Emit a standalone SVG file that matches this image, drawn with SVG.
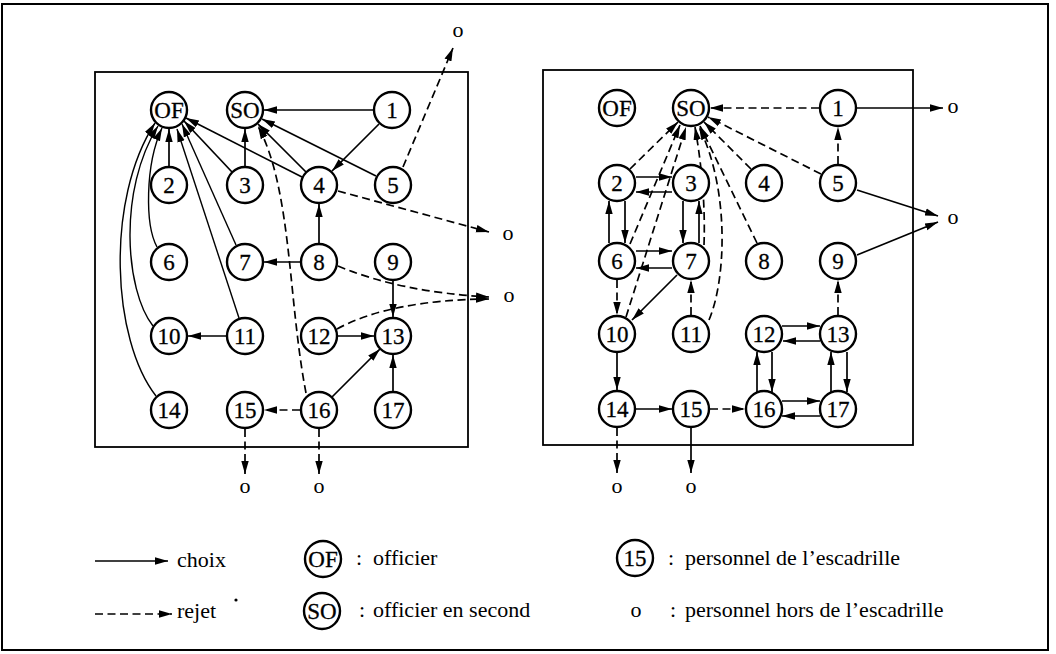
<svg xmlns="http://www.w3.org/2000/svg" width="1056" height="654" viewBox="0 0 1056 654">
<style>
.bg{fill:#fff}
.frame{fill:none;stroke:#000;stroke-width:2}
.panel{fill:none;stroke:#000;stroke-width:1.8}
.node circle{fill:#fff;stroke:#000;stroke-width:2.4}
.node text{font-family:"Liberation Serif","Times New Roman",serif;font-size:23px;fill:#000;text-anchor:middle;stroke:#000;stroke-width:0.3}
.lbl{font-family:"Liberation Serif","Times New Roman",serif;font-size:22px;fill:#000}
.o{font-family:"Liberation Serif","Times New Roman",serif;font-size:22px;fill:#000;text-anchor:middle}
.s{fill:none;stroke:#000;stroke-width:1.7;marker-end:url(#ah)}
.d{fill:none;stroke:#000;stroke-width:1.7;stroke-dasharray:8 4.5;marker-end:url(#ah)}
.t{fill:none;stroke:#000;stroke-width:1.4;marker-end:url(#ah)}
</style>
<defs>
<marker id="ah" markerUnits="userSpaceOnUse" markerWidth="14" markerHeight="10" refX="13" refY="5" orient="auto">
<path d="M0,1.3 L13,5 L0,8.7 z" fill="#000" stroke="none"/>
</marker>
</defs>
<rect class="bg" x="0" y="0" width="1056" height="654"/>
<rect class="frame" x="2" y="4" width="1046" height="646"/>
<rect class="panel" x="95" y="72" width="373" height="375"/>
<rect class="panel" x="543" y="70" width="370" height="375"/>

<g id="connectors-left">
<path class="s" d="M373,110 L264,110"/>
<path class="s" d="M379,124 L332,171"/>
<path class="s" d="M376,176 L262,119"/>
<path class="s" d="M306,172 L258,124"/>
<path class="s" d="M302,177 L186,118"/>
<path class="s" d="M245,166 L245,129"/>
<path class="s" d="M232,172 L184,121"/>
<path class="s" d="M169,166 L169,129"/>
<path class="t" d="M236,245 L182,124"/>
<path class="t" d="M239,318 L177,129"/>
<path class="t" d="M156,396 C112,340 105,200 155,123"/>
<path class="t" d="M153,326 C125,290 118,190 158,126"/>
<path class="t" d="M157,247 C145,225 145,165 162,128"/>
<path class="d" d="M306,393 C288,300 292,190 258,126"/>
<path class="d" d="M403,167 L453,48"/>
<path class="d" d="M338,191 L489,232"/>
<path class="d" d="M338,266 Q400,292 489,297"/>
<path class="d" d="M337,329 Q390,300 489,299"/>
<path class="s" d="M319,243 L319,204"/>
<path class="s" d="M300,262 L264,262"/>
<path class="s" d="M393,281 L393,317"/>
<path class="s" d="M338,336 L374,336"/>
<path class="s" d="M332,397 L380,349"/>
<path class="s" d="M393,391 L393,355"/>
<path class="s" d="M226,336 L188,336"/>
<path class="d" d="M300,410 L264,410"/>
<path class="d" d="M245,429 L245,474"/>
<path class="d" d="M319,429 L319,474"/>
</g>

<g id="connectors-right">
<path class="d" d="M819,108 L710,108"/>
<path class="s" d="M857,108 L943,108"/>
<path class="d" d="M838,164 L838,127"/>
<path class="d" d="M821,174 L708,117"/>
<path class="d" d="M751,169 L704,122"/>
<path class="d" d="M757,243 L700,126"/>
<path class="s" d="M857,190 L938,216"/>
<path class="s" d="M857,255 L938,222"/>
<path class="d" d="M630,169 L678,122"/>
<path class="s" d="M636,177 L672,177"/>
<path class="s" d="M672,192 L636,192"/>
<path class="s" d="M625,201 L625,243"/>
<path class="s" d="M609,243 L609,201"/>
<path class="s" d="M683,201 L683,243"/>
<path class="s" d="M699,243 L699,201"/>
<path class="s" d="M636,251 L672,251"/>
<path class="s" d="M672,268 L636,268"/>
<path class="d" d="M617,280 L617,315"/>
<path class="d" d="M630,244 L680,125"/>
<path class="d" d="M626,317 L686,127"/>
<path class="d" d="M704,245 Q706,190 695,127"/>
<path class="d" d="M709,320 C726,280 730,190 699,127"/>
<path class="s" d="M677,275 L632,320"/>
<path class="d" d="M691,315 L691,280"/>
<path class="s" d="M617,353 L617,390"/>
<path class="s" d="M636,409 L672,409"/>
<path class="d" d="M710,409 L745,409"/>
<path class="d" d="M617,428 L617,473"/>
<path class="s" d="M691,428 L691,473"/>
<path class="d" d="M838,315 L838,280"/>
<path class="s" d="M782,326 L820,326"/>
<path class="s" d="M820,341 L783,341"/>
<path class="s" d="M772,352 L772,392"/>
<path class="s" d="M757,392 L757,352"/>
<path class="s" d="M847,352 L847,392"/>
<path class="s" d="M831,392 L831,352"/>
<path class="s" d="M782,401 L820,401"/>
<path class="s" d="M820,416 L782,416"/>
</g>

<g id="L-OF" class="node"><circle cx="169" cy="110" r="18"/><text x="169" y="118">OF</text></g>
<g id="L-SO" class="node"><circle cx="245" cy="110" r="18"/><text x="245" y="118">SO</text></g>
<g id="L-1" class="node"><circle cx="392" cy="110" r="18"/><text x="392" y="118">1</text></g>
<g id="L-2" class="node"><circle cx="169" cy="185" r="18"/><text x="169" y="193">2</text></g>
<g id="L-3" class="node"><circle cx="245" cy="185" r="18"/><text x="245" y="193">3</text></g>
<g id="L-4" class="node"><circle cx="319" cy="185" r="18"/><text x="319" y="193">4</text></g>
<g id="L-5" class="node"><circle cx="393" cy="185" r="18"/><text x="393" y="193">5</text></g>
<g id="L-6" class="node"><circle cx="169" cy="262" r="18"/><text x="169" y="270">6</text></g>
<g id="L-7" class="node"><circle cx="245" cy="262" r="18"/><text x="245" y="270">7</text></g>
<g id="L-8" class="node"><circle cx="319" cy="262" r="18"/><text x="319" y="270">8</text></g>
<g id="L-9" class="node"><circle cx="393" cy="262" r="18"/><text x="393" y="270">9</text></g>
<g id="L-10" class="node"><circle cx="169" cy="336" r="18"/><text x="169" y="344">10</text></g>
<g id="L-11" class="node"><circle cx="245" cy="336" r="18"/><text x="245" y="344">11</text></g>
<g id="L-12" class="node"><circle cx="319" cy="336" r="18"/><text x="319" y="344">12</text></g>
<g id="L-13" class="node"><circle cx="393" cy="336" r="18"/><text x="393" y="344">13</text></g>
<g id="L-14" class="node"><circle cx="169" cy="410" r="18"/><text x="169" y="418">14</text></g>
<g id="L-15" class="node"><circle cx="245" cy="410" r="18"/><text x="245" y="418">15</text></g>
<g id="L-16" class="node"><circle cx="319" cy="410" r="18"/><text x="319" y="418">16</text></g>
<g id="L-17" class="node"><circle cx="393" cy="410" r="18"/><text x="393" y="418">17</text></g>

<g id="L-ext">
<text class="o" x="458" y="37">o</text>
<text class="o" x="508" y="240">o</text>
<text class="o" x="509" y="302">o</text>
<text class="o" x="245" y="493">o</text>
<text class="o" x="319" y="493">o</text>
</g>

<g id="R-OF" class="node"><circle cx="617" cy="108" r="18"/><text x="617" y="116">OF</text></g>
<g id="R-SO" class="node"><circle cx="691" cy="108" r="18"/><text x="691" y="116">SO</text></g>
<g id="R-1" class="node"><circle cx="838" cy="108" r="18"/><text x="838" y="116">1</text></g>
<g id="R-2" class="node"><circle cx="617" cy="183" r="18"/><text x="617" y="191">2</text></g>
<g id="R-3" class="node"><circle cx="691" cy="183" r="18"/><text x="691" y="191">3</text></g>
<g id="R-4" class="node"><circle cx="764" cy="183" r="18"/><text x="764" y="191">4</text></g>
<g id="R-5" class="node"><circle cx="838" cy="183" r="18"/><text x="838" y="191">5</text></g>
<g id="R-6" class="node"><circle cx="617" cy="261" r="18"/><text x="617" y="269">6</text></g>
<g id="R-7" class="node"><circle cx="691" cy="261" r="18"/><text x="691" y="269">7</text></g>
<g id="R-8" class="node"><circle cx="764" cy="261" r="18"/><text x="764" y="269">8</text></g>
<g id="R-9" class="node"><circle cx="838" cy="261" r="18"/><text x="838" y="269">9</text></g>
<g id="R-10" class="node"><circle cx="617" cy="334" r="18"/><text x="617" y="342">10</text></g>
<g id="R-11" class="node"><circle cx="691" cy="334" r="18"/><text x="691" y="342">11</text></g>
<g id="R-12" class="node"><circle cx="764" cy="334" r="18"/><text x="764" y="342">12</text></g>
<g id="R-13" class="node"><circle cx="838" cy="334" r="18"/><text x="838" y="342">13</text></g>
<g id="R-14" class="node"><circle cx="617" cy="409" r="18"/><text x="617" y="417">14</text></g>
<g id="R-15" class="node"><circle cx="691" cy="409" r="18"/><text x="691" y="417">15</text></g>
<g id="R-16" class="node"><circle cx="764" cy="409" r="18"/><text x="764" y="417">16</text></g>
<g id="R-17" class="node"><circle cx="838" cy="409" r="18"/><text x="838" y="417">17</text></g>

<g id="R-ext">
<text class="o" x="953" y="113">o</text>
<text class="o" x="953" y="224">o</text>
<text class="o" x="617" y="493">o</text>
<text class="o" x="691" y="493">o</text>
</g>

<g id="legend">
<path class="s" d="M95,561 L168,561"/>
<text class="lbl" x="177" y="567">choix</text>
<path class="d" d="M95,614 L172,614"/>
<text class="lbl" x="177" y="618">rejet</text>
<circle cx="236" cy="600" r="1.6" fill="#000"/>
<g id="legend-OF" class="node"><circle cx="323" cy="559" r="18"/><text x="323" y="567">OF</text></g>
<text class="lbl" x="356" y="565">:</text>
<text class="lbl" x="373" y="565">officier</text>
<g id="legend-SO" class="node"><circle cx="322" cy="611" r="18"/><text x="322" y="619">SO</text></g>
<text class="lbl" x="359" y="617">:</text>
<text class="lbl" x="373" y="617">officier en second</text>
<g id="legend-15" class="node"><circle cx="635" cy="558" r="18"/><text x="635" y="566">15</text></g>
<text class="lbl" x="668" y="565">:</text>
<text class="lbl" x="685" y="565">personnel de l’escadrille</text>
<text class="o" x="636" y="617">o</text>
<text class="lbl" x="670" y="617">:</text>
<text class="lbl" x="685" y="617">personnel hors de l’escadrille</text>
</g>
</svg>
